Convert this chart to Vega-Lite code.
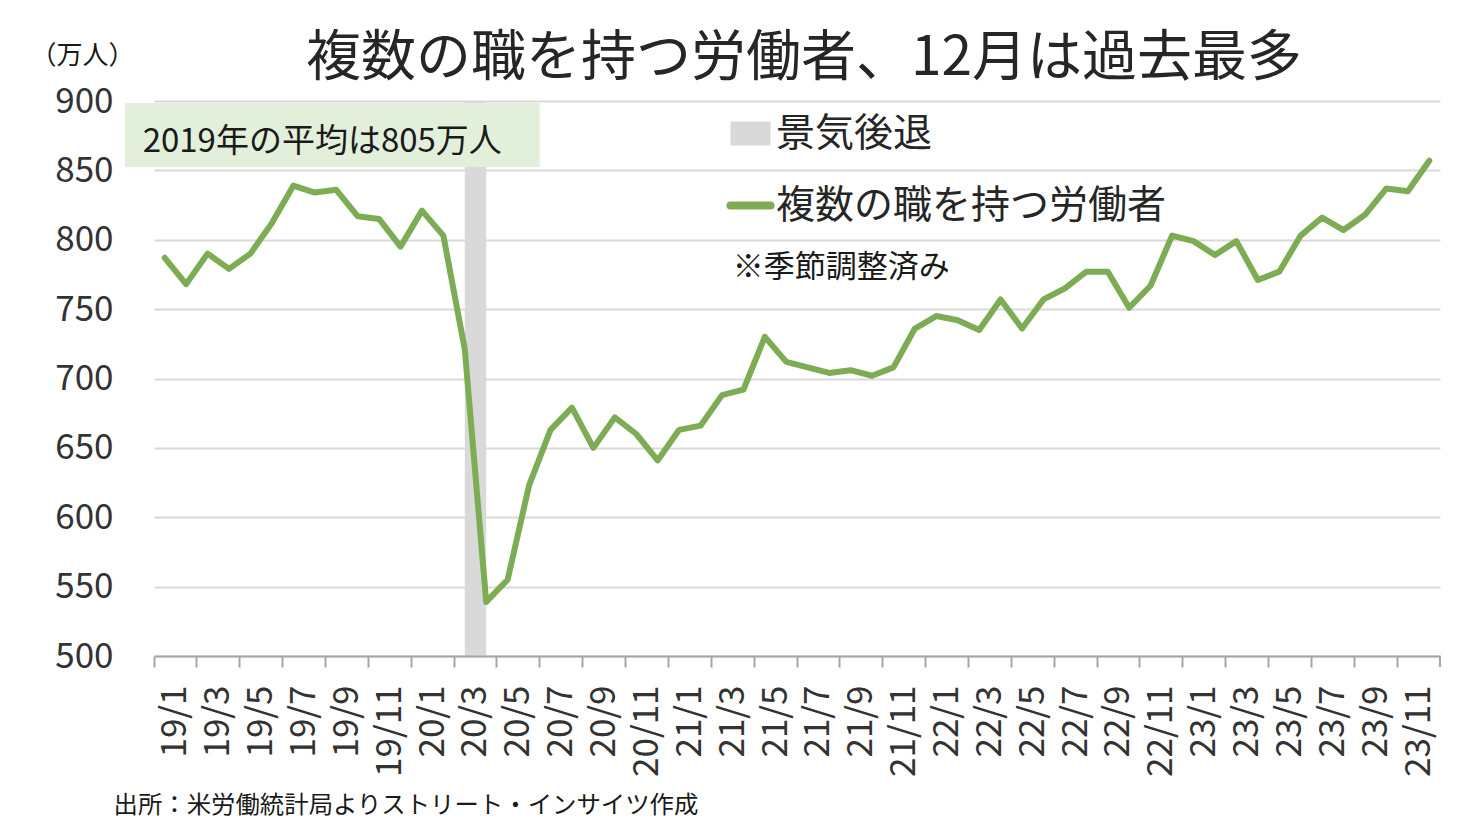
{
  "$schema": "https://vega.github.io/schema/vega-lite/v6.json",
  "width": 1286,
  "height": 555,
  "autosize": {"type": "none"},
  "padding": {"left": 154, "top": 101, "right": 35, "bottom": 177},
  "background": "#ffffff",
  "config": {
    "font": "Noto Sans CJK JP",
    "view": {"stroke": null}
  },
  "title": {
    "text": "複数の職を持つ労働者、12月は過去最多",
    "fontSize": 55,
    "fontWeight": "normal",
    "color": "#262626",
    "anchor": "middle",
    "frame": "group",
    "dx": 7,
    "offset": -45
  },
  "layer": [
    {
      "data": {"values": [{"series": "景気後退", "start": "2020-03", "end": "2020-04"}]},
      "mark": {"type": "rect"},
      "encoding": {
        "x": {"field": "start", "type": "ordinal", "bandPosition": 0.5, "scale": {"type": "band", "paddingInner": 0, "paddingOuter": 0}},
        "x2": {"field": "end", "bandPosition": 0.5},
        "color": {"field": "series", "type": "nominal"}
      }
    },
    {
      "data": {"values": [
        {"month": "2019-01", "value": 787}, {"month": "2019-02", "value": 768}, {"month": "2019-03", "value": 790}, {"month": "2019-04", "value": 779},
        {"month": "2019-05", "value": 790}, {"month": "2019-06", "value": 812}, {"month": "2019-07", "value": 839}, {"month": "2019-08", "value": 834},
        {"month": "2019-09", "value": 836}, {"month": "2019-10", "value": 817}, {"month": "2019-11", "value": 815}, {"month": "2019-12", "value": 795},
        {"month": "2020-01", "value": 821}, {"month": "2020-02", "value": 803}, {"month": "2020-03", "value": 721}, {"month": "2020-04", "value": 539},
        {"month": "2020-05", "value": 555}, {"month": "2020-06", "value": 623}, {"month": "2020-07", "value": 663}, {"month": "2020-08", "value": 679},
        {"month": "2020-09", "value": 650}, {"month": "2020-10", "value": 672}, {"month": "2020-11", "value": 660}, {"month": "2020-12", "value": 641},
        {"month": "2021-01", "value": 663}, {"month": "2021-02", "value": 666}, {"month": "2021-03", "value": 688}, {"month": "2021-04", "value": 692},
        {"month": "2021-05", "value": 730}, {"month": "2021-06", "value": 712}, {"month": "2021-07", "value": 708}, {"month": "2021-08", "value": 704},
        {"month": "2021-09", "value": 706}, {"month": "2021-10", "value": 702}, {"month": "2021-11", "value": 708}, {"month": "2021-12", "value": 736},
        {"month": "2022-01", "value": 745}, {"month": "2022-02", "value": 742}, {"month": "2022-03", "value": 735}, {"month": "2022-04", "value": 757},
        {"month": "2022-05", "value": 736}, {"month": "2022-06", "value": 757}, {"month": "2022-07", "value": 765}, {"month": "2022-08", "value": 777},
        {"month": "2022-09", "value": 777}, {"month": "2022-10", "value": 751}, {"month": "2022-11", "value": 767}, {"month": "2022-12", "value": 803},
        {"month": "2023-01", "value": 799}, {"month": "2023-02", "value": 789}, {"month": "2023-03", "value": 799}, {"month": "2023-04", "value": 771},
        {"month": "2023-05", "value": 777}, {"month": "2023-06", "value": 803}, {"month": "2023-07", "value": 816}, {"month": "2023-08", "value": 807},
        {"month": "2023-09", "value": 818}, {"month": "2023-10", "value": 837}, {"month": "2023-11", "value": 835}, {"month": "2023-12", "value": 857}
      ]},
      "transform": [{"calculate": "'複数の職を持つ労働者'", "as": "series"}],
      "mark": {"type": "line", "strokeWidth": 6, "strokeJoin": "round", "strokeCap": "round"},
      "encoding": {
        "x": {
          "field": "month", "type": "ordinal", "bandPosition": 0.5,
          "scale": {"type": "band", "paddingInner": 0, "paddingOuter": 0},
          "axis": {
            "values": ["2019-01","2019-03","2019-05","2019-07","2019-09","2019-11","2020-01","2020-03","2020-05","2020-07","2020-09","2020-11","2021-01","2021-03","2021-05","2021-07","2021-09","2021-11","2022-01","2022-03","2022-05","2022-07","2022-09","2022-11","2023-01","2023-03","2023-05","2023-07","2023-09","2023-11"],
            "labelExpr": "substring(datum.value, 2, 4) + '/' + toNumber(substring(datum.value, 5, 7))",
            "bandPosition": 0,
            "labelOffset": 10.7,
            "labelAngle": -90,
            "labelAlign": "right",
            "labelBaseline": "middle",
            "labelFontSize": 35,
            "labelColor": "#333333",
            "labelPadding": 18,
            "labelOverlap": false,
            "labelBound": false,
            "labelFlush": false,
            "grid": false,
            "domainColor": "#a6a6a6",
            "domainWidth": 2,
            "tickColor": "#a6a6a6",
            "tickWidth": 2,
            "tickSize": 11,
            "title": "出所：米労働統計局よりストリート・インサイツ作成",
            "titleFontSize": 24.4,
            "titleFontWeight": "normal",
            "titleColor": "#1a1a1a",
            "titleX": -41,
            "titleY": 149,
            "titleAlign": "left",
            "titleAnchor": "start",
            "titleBaseline": "middle"
          }
        },
        "y": {
          "field": "value", "type": "quantitative",
          "scale": {"domain": [500, 900], "nice": false, "zero": false},
          "axis": {
            "values": [500, 550, 600, 650, 700, 750, 800, 850, 900],
            "labelFontSize": 35,
            "labelColor": "#333333",
            "labelPadding": 41,
            "ticks": false,
            "domain": false,
            "gridColor": "#d9d9d9",
            "gridWidth": 2,
            "title": "（万人）",
            "titleAngle": 0,
            "titleFontSize": 26,
            "titleFontWeight": "normal",
            "titleColor": "#1a1a1a",
            "titleX": -124,
            "titleY": -46,
            "titleAlign": "left",
            "titleBaseline": "middle"
          }
        },
        "color": {
          "field": "series", "type": "nominal",
          "scale": {"domain": ["景気後退", "複数の職を持つ労働者"], "range": ["#D9D9D9", "#7CAD55"]},
          "legend": {
            "title": null,
            "orient": "none",
            "legendX": 577,
            "legendY": 13,
            "labelFontSize": 39,
            "labelColor": "#262626",
            "labelOffset": 6,
            "labelLimit": 600,
            "symbolSize": 1600,
            "rowPadding": 32,
            "encode": {
              "symbols": {
                "update": {
                  "shape": {"signal": "datum.value === '景気後退' ? 'M-1,-0.6H1V0.6H-1Z' : 'stroke'"},
                  "fill": {"signal": "datum.value === '景気後退' ? '#D9D9D9' : 'transparent'"},
                  "stroke": {"signal": "datum.value === '景気後退' ? 'transparent' : '#7CAD55'"},
                  "strokeWidth": {"signal": "datum.value === '景気後退' ? 0 : 8"},
                  "strokeCap": {"value": "round"},
                  "opacity": {"value": 1}
                }
              }
            }
          }
        }
      }
    },
    {
      "data": {"values": [{"note": "2019年の平均は805万人"}]},
      "mark": {"type": "rect", "color": "#E2EFDA", "xOffset": -29},
      "encoding": {
        "x": {"datum": "2019-01", "bandPosition": 0},
        "x2": {"datum": "2020-07", "bandPosition": 0},
        "y": {"datum": 898.5},
        "y2": {"datum": 852.5}
      }
    },
    {
      "data": {"values": [{"note": "2019年の平均は805万人"}]},
      "mark": {"type": "text", "fontSize": 33, "color": "#1a1a1a", "align": "center", "baseline": "middle"},
      "encoding": {
        "x": {"datum": "2019-08", "bandPosition": 0.85},
        "y": {"datum": 870.5},
        "text": {"field": "note"}
      }
    },
    {
      "data": {"values": [{"note": "※季節調整済み"}]},
      "mark": {"type": "text", "fontSize": 31, "color": "#1a1a1a", "align": "left", "baseline": "middle"},
      "encoding": {
        "x": {"datum": "2021-04", "bandPosition": 0},
        "y": {"datum": 780},
        "text": {"field": "note"}
      }
    },
    {
      "data": {"values": [{"end": "2023-12"}]},
      "mark": {"type": "rule", "color": "#a6a6a6", "strokeWidth": 2, "clip": false},
      "encoding": {
        "x": {"field": "end", "type": "ordinal", "bandPosition": 1},
        "y": {"datum": 500},
        "y2": {"datum": 492.07}
      }
    }
  ]
}
